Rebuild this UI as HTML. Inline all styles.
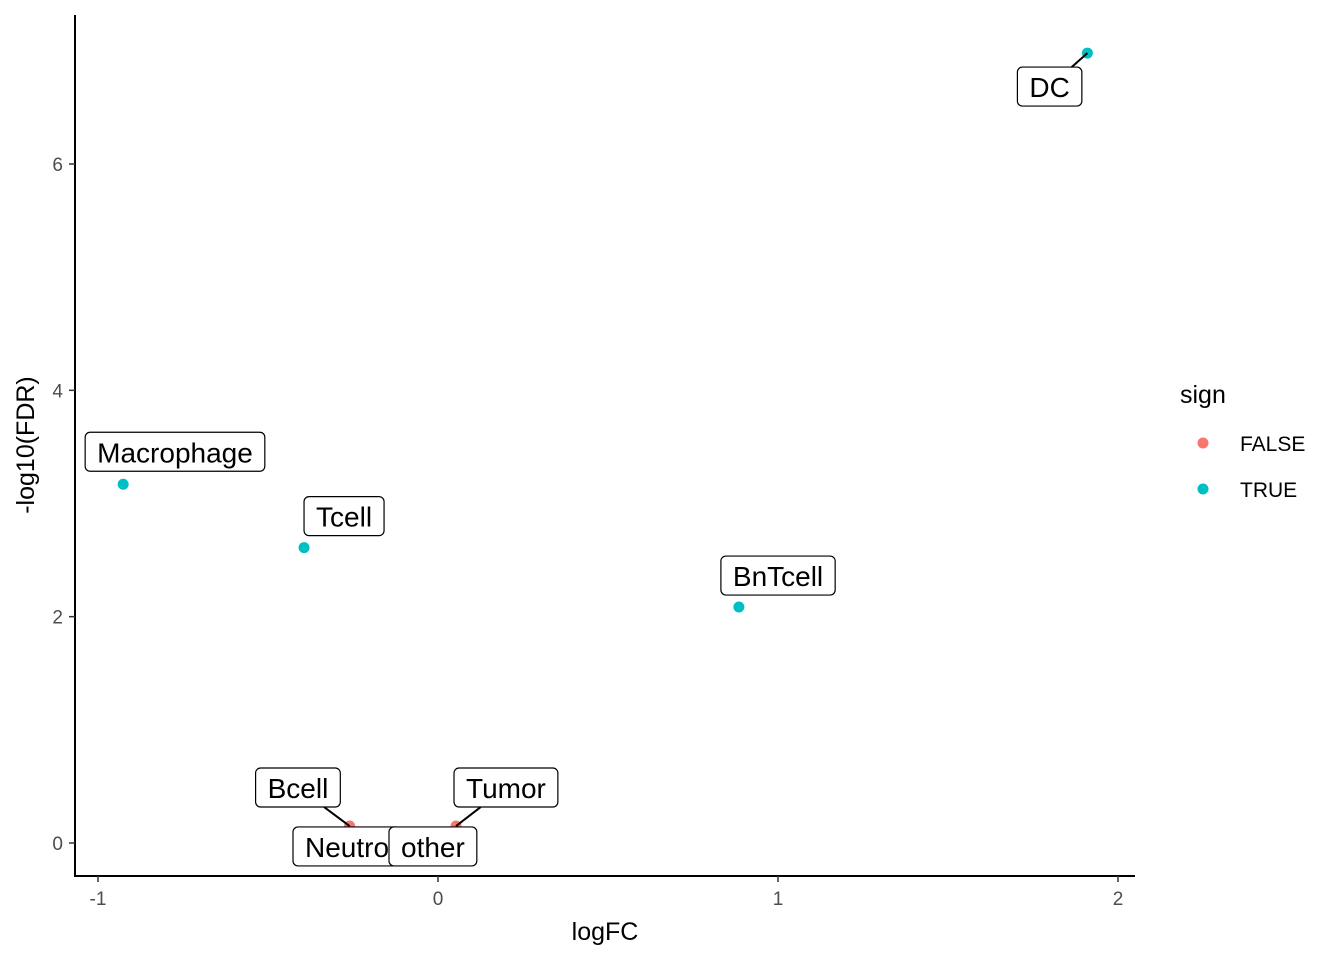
<!DOCTYPE html>
<html><head><meta charset="utf-8"><style>
body{margin:0;background:#fff;}
svg text{font-family:"Liberation Sans",Arial,sans-serif;}
</style></head><body>
<svg id="chart" width="1344" height="960" xmlns="http://www.w3.org/2000/svg"></svg>
<script>
const cellTypes = ["DC","Macrophage","Tcell","BnTcell","Bcell","Neutro","other","Tumor"];
const logFC = [1.91,-0.926,-0.394,0.885,-0.26,-0.2,0.0,0.053];
const negLogFDR = [6.98,3.17,2.61,2.085,0.15,0.08,0.08,0.15];
const signValues = [true,true,true,true,false,false,false,false];
const xTicks = [-1,0,1,2];
const yTicks = [0,2,4,6];
// label layout only
const labelDx = [-70,-38,0,-18,-94,-77,-49,-2];
const labelDy = [14,-52,-51,-51,-58,-7,-7,-58];
const showSegment = [true,false,false,false,true,false,false,true];

const NS="http://www.w3.org/2000/svg";
const svg=document.getElementById('chart');
function mk(t,a,p){const e=document.createElementNS(NS,t);for(const k in a)e.setAttribute(k,a[k]);(p||svg).appendChild(e);return e;}
const xS=v=>438+v*340;
const yS=v=>843-v*113.17;
const colT="#00BFC4",colF="#F8766D";

const ax=mk('line',{x1:75,y1:15,x2:75,y2:876,stroke:'#000','stroke-width':2});

const ax2=mk('line',{x1:74,y1:876,x2:1135,y2:876,stroke:'#000','stroke-width':2});

xTicks.forEach(t=>{
  const l=mk('line',{x1:xS(t),y1:876,x2:xS(t),y2:882,stroke:'#333','stroke-width':1.5});
  
  const tx=mk('text',{x:xS(t),y:905,'text-anchor':'middle','font-size':19,fill:'#4d4d4d'});
  tx.textContent=t;
});
yTicks.forEach(t=>{
  const l=mk('line',{x1:69,y1:yS(t),x2:75,y2:yS(t),stroke:'#333','stroke-width':1.5});
  
  const tx=mk('text',{x:63,y:yS(t)+7,'text-anchor':'end','font-size':19,fill:'#4d4d4d'});
  tx.textContent=t;
});
const xt=mk('text',{x:605,y:940,'text-anchor':'middle','font-size':25});
xt.textContent='logFC';
const yt=mk('text',{x:0,y:0,'text-anchor':'middle','font-size':25,transform:'translate(34,445) rotate(-90)'});
yt.textContent='-log10(FDR)';

cellTypes.forEach((c,i)=>{
  const p=mk('circle',{cx:xS(logFC[i]),cy:yS(negLogFDR[i]),r:5.5,fill:signValues[i]?colT:colF});
  
});
cellTypes.forEach((c,i)=>{
  const px=xS(logFC[i]),py=yS(negLogFDR[i]);
  const bx=px+labelDx[i],by=py+labelDy[i];
  const g=mk('g',{});
  
  const t=mk('text',{x:bx+12,y:by+30,'font-size':28},g);t.textContent=c;
  const w=t.getBBox().width+24,h=39;
  const ccx=bx+w/2,ccy=by+h/2;
  const dx=ccx-px,dy=ccy-py;
  let tmax=1;
  [bx,bx+w].forEach(e=>{if(dx!==0){const tt=(e-px)/dx;if(tt>0&&tt<tmax){const yy=py+tt*dy;if(yy>=by-0.1&&yy<=by+h+0.1)tmax=tt;}}});
  [by,by+h].forEach(e=>{if(dy!==0){const tt=(e-py)/dy;if(tt>0&&tt<tmax){const xx=px+tt*dx;if(xx>=bx-0.1&&xx<=bx+w+0.1)tmax=tt;}}});
  const ex=px+tmax*dx,ey=py+tmax*dy;
  if(showSegment[i]){const s=mk('line',{x1:px,y1:py,x2:ex,y2:ey,stroke:'#000','stroke-width':2});g.insertBefore(s,t);}
  const r=mk('rect',{x:bx,y:by,width:w,height:h,rx:5,fill:'#fff',stroke:'#000','stroke-width':1.2});
  g.insertBefore(r,t);
});

const lg=mk('g',{});
const lt=mk('text',{x:1180,y:403,'font-size':25},lg);lt.textContent='sign';
[['FALSE',colF,444],['TRUE',colT,490]].forEach(([n,c,y])=>{
  const e=mk('g',{},lg);
  mk('circle',{cx:1203,cy:y-1,r:5.5,fill:c},e);
  const tx=mk('text',{x:1240,y:y+7,'font-size':21},e);tx.textContent=n;
});
</script>
</body></html>
